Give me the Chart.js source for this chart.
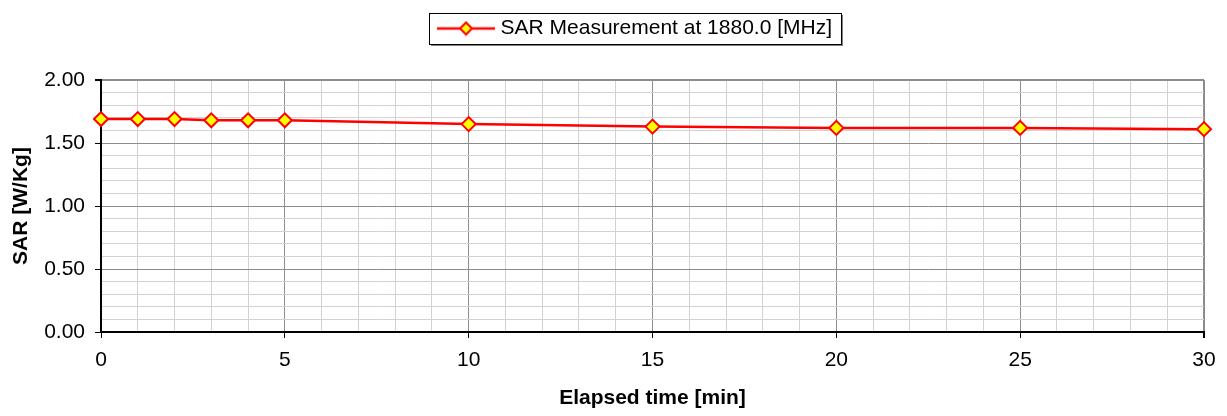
<!DOCTYPE html>
<html>
<head>
<meta charset="utf-8">
<title>SAR Measurement</title>
<script src="https://cdn.jsdelivr.net/npm/chart.js@4.4.1/dist/chart.umd.min.js"></script>
<style>
  body { margin: 0; background: #ffffff; }
  #sarChart { display: block; }
</style>
</head>
<body>
<canvas id="sarChart" width="1227" height="416"></canvas>
<script>
// --- DATA ---
const elapsedMinutes = [0, 1, 2, 3, 4, 5, 10, 15, 20, 25, 30];
const sarValues = [1.69, 1.69, 1.69, 1.68, 1.68, 1.68, 1.65, 1.63, 1.62, 1.62, 1.61];
const seriesLabel = "SAR Measurement at 1880.0 [MHz]";
const xTitle = "Elapsed time [min]";
const yTitle = "SAR [W/Kg]";

const FONT = "'Liberation Sans', Arial, sans-serif";

// --- LEGEND ICON (line with diamond marker) ---
function makeLegendIcon() {
    const c = document.createElement("canvas");
    c.width = 58;
    c.height = 16;
    const g = c.getContext("2d");
    g.strokeStyle = "#ff0000";
    g.lineWidth = 2.5;
    g.beginPath();
    g.moveTo(0, 8);
    g.lineTo(58, 8);
    g.stroke();
    g.beginPath();
    g.moveTo(29 - 6, 8);
    g.lineTo(29, 2);
    g.lineTo(29 + 6, 8);
    g.lineTo(29, 14);
    g.closePath();
    g.fillStyle = "#ffff00";
    g.fill();
    g.lineWidth = 2;
    g.stroke();
    return c;
}
const legendIcon = makeLegendIcon();

function isMajorY(v) { return Math.abs(v * 2 - Math.round(v * 2)) < 1e-6; }
function isMajorX(v) { return Math.abs(v / 5 - Math.round(v / 5)) < 1e-6; }

// --- PLUGIN: legend height/offset + framed legend box ---
const legendFrame = {
    id: "legendFrame",
    afterInit(chart) {
        const legend = chart.legend;
        const origFit = legend.fit;
        legend.fit = function() {
            origFit.call(this);
            this.height = 80;
        };
    },
    afterLayout(chart) {
        chart.legend.left += 35;
        chart.legend.right += 35;
    },
    beforeDraw(chart) {
        const hb = chart.legend.legendHitBoxes[0];
        if (!hb) return;
        const ctx = chart.ctx;
        const x0 = hb.left - 13;
        const x1 = hb.left + hb.width + 9;
        const y0 = 13, y1 = 44;
        ctx.save();
        ctx.fillStyle = "#7f7f7f";
        ctx.fillRect(x0 + 2, y0 + 2, x1 - x0, y1 - y0);
        ctx.fillStyle = "#ffffff";
        ctx.fillRect(x0, y0, x1 - x0, y1 - y0);
        ctx.strokeStyle = "#000000";
        ctx.lineWidth = 1;
        ctx.strokeRect(x0 + 0.5, y0 + 0.5, x1 - x0, y1 - y0);
        ctx.restore();
    }
};

// --- CHART ---
const ctx = document.getElementById("sarChart").getContext("2d");
Chart.defaults.font.family = FONT;
Chart.defaults.color = "#000000";

new Chart(ctx, {
    type: "line",
    data: {
        datasets: [{
            label: seriesLabel,
            data: elapsedMinutes.map((t, i) => ({ x: t, y: sarValues[i] })),
            borderColor: "#ff0000",
            borderWidth: 2.5,
            pointStyle: "rectRot",
            pointRadius: 7,
            pointBackgroundColor: "#ffff00",
            pointBorderColor: "#ff0000",
            pointBorderWidth: 2,
            tension: 0,
            clip: false
        }]
    },
    options: {
        responsive: false,
        animation: false,
        layout: { padding: { left: 0, right: 23, top: 0, bottom: 0 } },
        plugins: {
            tooltip: { enabled: false },
            legend: {
                position: "top",
                labels: {
                    usePointStyle: true,
                    pointStyleWidth: 48,
                    padding: 18,
                    font: { size: 21 },
                    color: "#000000",
                    generateLabels(chart) {
                        const items = Chart.defaults.plugins.legend.labels.generateLabels(chart);
                        items.forEach(it => { it.pointStyle = legendIcon; });
                        return items;
                    }
                }
            }
        },
        scales: {
            x: {
                type: "linear",
                min: 0,
                max: 30,
                afterFit(scale) { scale.height = 84; },
                ticks: {
                    stepSize: 1,
                    autoSkip: false,
                    maxTicksLimit: 100,
                    maxRotation: 0,
                    padding: 10,
                    font: { size: 21 },
                    callback: v => isMajorX(v) ? String(Math.round(v)) : ""
                },
                grid: {
                    color: c => isMajorX(c.tick.value) ? "#8c8c8c" : "#d2d2d2",
                    lineWidth: c => c.tick.value === 30 ? 2 : 1,
                    tickLength: 6,
                    tickColor: c => isMajorX(c.tick.value) ? "#000000" : "rgba(0,0,0,0)"
                },
                border: { color: "#000000", width: 2 },
                title: {
                    display: true,
                    text: xTitle,
                    font: { size: 21, weight: "bold" },
                    padding: { top: 0, bottom: 5 }
                }
            },
            y: {
                min: 0,
                max: 2,
                afterFit(scale) { scale.width = 101; },
                ticks: {
                    stepSize: 0.1,
                    autoSkip: false,
                    maxTicksLimit: 100,
                    padding: 10,
                    font: { size: 21 },
                    callback: v => isMajorY(v) ? v.toFixed(2) : ""
                },
                grid: {
                    color: c => isMajorY(c.tick.value) ? "#8c8c8c" : "#d2d2d2",
                    lineWidth: c => Math.abs(c.tick.value - 2) < 1e-6 ? 2 : 1,
                    tickLength: 6,
                    tickColor: c => isMajorY(c.tick.value) ? "#000000" : "rgba(0,0,0,0)"
                },
                border: { color: "#000000", width: 2 },
                title: {
                    display: true,
                    text: yTitle,
                    font: { size: 21, weight: "bold" },
                    padding: { top: 9, bottom: 0 }
                }
            }
        }
    },
    plugins: [legendFrame]
});
</script>
</body>
</html>
